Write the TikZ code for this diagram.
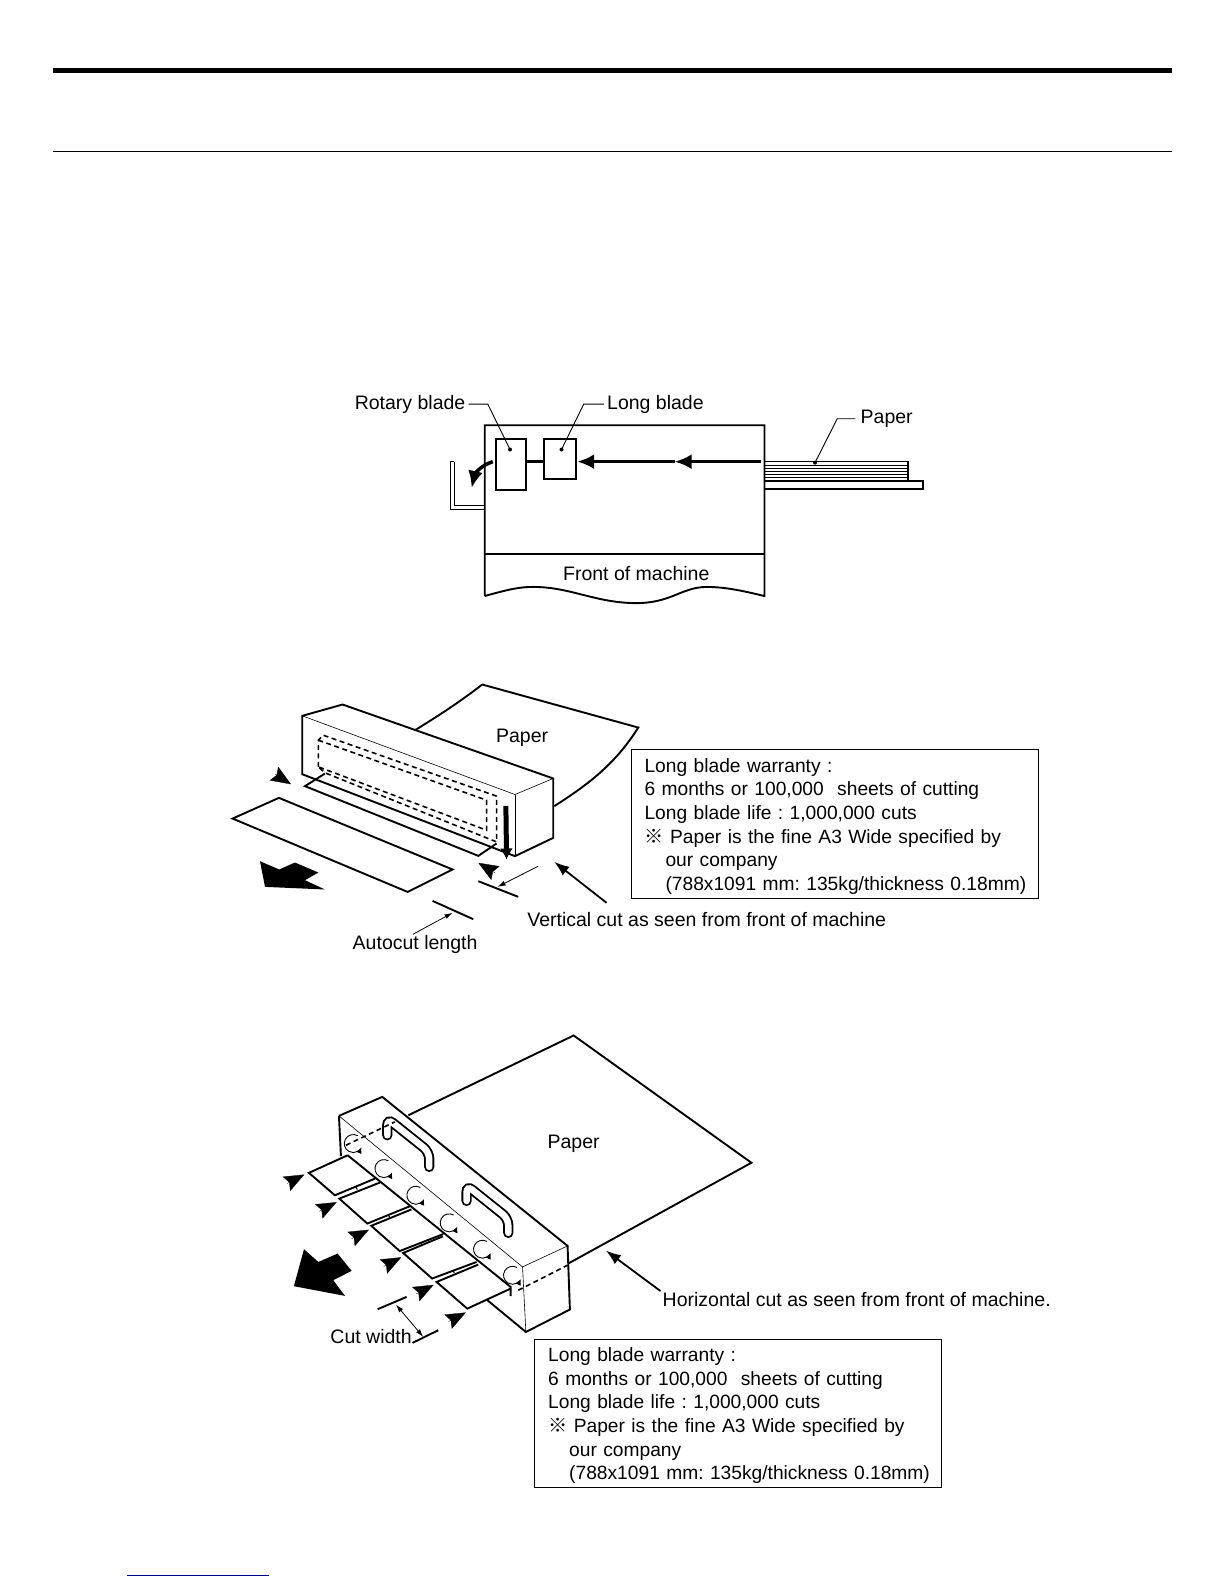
\documentclass[tikz,border=0pt]{standalone}
\usepackage{fontspec}
\setmainfont{Liberation Sans}
\newfontfamily\cjk{Noto Sans CJK JP}
\usetikzlibrary{arrows.meta, calc, positioning}
\tikzset{
  outline/.style  = {draw, line width=1.9pt, line join=miter},
  edgeline/.style = {draw, line width=0.6pt},
  hidden/.style   = {draw, line width=1.6pt, dash pattern=on 5pt off 3.5pt},
  feed/.style     = {-{Latex[length=17pt,width=15pt]}, line width=3.5pt},
  leader/.style   = {line width=0.9pt},
  thinarrow/.style= {-{Latex[length=8pt,width=5pt]}, line width=0.8pt},
  marker/.style   = {-{Stealth[length=20pt,width=16pt,inset=3pt]}, line width=0.3pt},
  endpoint/.style = {circle, fill, inner sep=0pt, minimum size=4pt},
  handle/.style   = {line width=1.9pt, double=white, double distance=6.5pt, line cap=round, rounded corners=7pt},
  lbl/.style      = {font=\fontsize{19.5}{23}\selectfont, inner sep=0pt, yshift=-1pt},
  note/.style     = {draw, line width=0.9pt, anchor=north west, align=left, text width=380pt,
                     inner xsep=13.5pt, inner ysep=3.5pt, font=\frenchspacing\fontsize{19.2}{23.7}\selectfont},
}
\newcommand{\warrantynote}[3]{%
  \node[note] (#1) at (#2,#3) {\rule{0pt}{19pt}Long blade warranty :\\
    6 months or 100,000\hspace{7pt} sheets of cutting\\
    Long blade life : 1,000,000 cuts\\
    {\cjk ※} Paper is the fine A3 Wide specified by\\
    \hspace*{21pt}our company\\
    \hspace*{21pt}\mbox{(788x1091 mm: 135kg/thickness 0.18mm)}};
}
\begin{document}
\begin{tikzpicture}[x=1.0099pt, y=-1.0102pt]
  \useasboundingbox (0,0) rectangle (1212,1568);
  \draw[line width=5pt] (52,70) -- (1160,70);
  \draw[line width=0.9pt] (52,150) -- (1160,150);
  \draw[line width=1.3pt, blue!55!black] (125.7,1559.5) -- (266,1559.5);

  % paper path
  \draw[outline] (480,590) -- (480,421) -- (757,421) -- (757,590)
    .. controls (740,586) and (720,581) .. (700,581)
    .. controls (675,581) and (665,597) .. (630,597)
    .. controls (590,597) and (565,581) .. (528,581)
    .. controls (515,581) and (505,583) .. (480,590);
  \draw[outline] (480,548) -- (757,548);
  \draw[outline] (491,435) rectangle (521,485);
  \draw[outline] (539,435) rectangle (570,474);
  \draw[line width=3.5pt] (521,457) -- (539,457);
  \draw[feed] (754,457) -- (668,457);
  \draw[feed] (668,457) -- (571.5,457);
  \draw[feed] (488,457) .. controls (475,461) and (470,470) .. (467,483);
  \draw[line width=1.1pt] (446,457) -- (446,504.5) -- (480,504.5);
  \draw[line width=1.1pt] (450,457) -- (450,500.5) -- (480,500.5);
  \draw[line width=1.1pt] (446,457) -- (450,457);
  \draw[outline, line width=1.4pt] (757,476) -- (914,476) -- (914,484) -- (757,484);
  \draw[outline, line width=1.4pt] (757,457) -- (899,457) -- (899,476);
  \foreach \i in {1,...,5} {
    \draw[line width=0.7pt] (757,457+\i*3.2) -- (899,457+\i*3.2);
  }
  \node[lbl, anchor=east] (rotarylabel) at (461,399) {Rotary blade};
  \node[lbl, anchor=west] (longlabel) at (601,399) {Long blade};
  \node[lbl, anchor=west] (paperlabel) at (852,413.5) {Paper};
  \node[lbl] (frontlabel) at (630,567) {Front of machine};
  \node[endpoint] (rotaryend) at (505,445) {};
  \node[endpoint] (longend) at (556,445) {};
  \node[endpoint] (paperend) at (807,458) {};
  \draw[leader] (rotarylabel.east) ++(3,0) -- (483,400) -- (rotaryend.center);
  \draw[leader] (longlabel.west) ++(-3,0) -- (578,400) -- (longend.center);
  \draw[leader] (paperlabel.west) ++(-5,0) -- (829,414.5) -- (paperend.center);

  % long blade, vertical cut
  \draw[outline] (410.9,722.8) .. controls (435,708) and (455,695) .. (477.5,677.6)
    -- (632,720.2) .. controls (610,755) and (585,775) .. (548.8,798);
  \draw[outline, fill=white] (299.3,708.6) -- (339.2,697.4) -- (547.8,770.6) -- (547.8,829.4)
    -- (509.9,847.5) -- (299.3,766.4) -- cycle;
  \draw[edgeline] (299.3,708.6) -- (509.9,786.5) -- (547.8,770.6);
  \draw[edgeline] (509.9,786.5) -- (509.9,847.5);
  \draw[hidden] (315.2,759.1) -- (315.2,732.7) -- (320.1,727.8) -- (491.7,788.1) -- (491.7,833.4)
    -- (321.8,765) -- cycle;
  \draw[hidden] (315.2,732.7) -- (481.8,792.1) -- (481.8,821.8) -- (315.2,759.1);
  \draw[outline] (321.8,765.7) -- (302,778.2) -- (473.6,847.2) -- (491.7,835);
  \draw[-{Latex[length=11pt,width=13pt]}, line width=5pt] (500.9,797.7) -- (501.6,850.8);
  \draw[outline] (230.3,810.3) -- (276.2,789.8) -- (448.1,860.7) -- (403.6,882.9) -- cycle;
  \fill (257.4,852.5) -- (276.5,860.7) -- (292,853.8) -- (315.2,863.7) -- (302,871.3)
    -- (321.8,880.5) -- (262.4,877.9) -- cycle;
  \draw[marker] (272.3,766.4) -- (288.1,776.3);
  \draw[marker] (490,864) -- (473.6,854.1);
  \draw[outline] (473.6,872.3) -- (513.2,887.8);
  \draw[outline] (428.3,891.8) -- (468.6,909.9);
  \draw[thinarrow] (533,857.4) -- (492.7,877.9);
  \node[lbl] (bladepaper) at (517,729) {Paper};
  \node[lbl] (autocutlabel) at (411,934) {Autocut length};
  \node[lbl, anchor=west] (verticallabel) at (522,909) {Vertical cut as seen from front of machine};
  \draw[thinarrow] (autocutlabel.north) ++(-2,-1) -- (448.1,903.6);
  \draw[-{Latex[length=15pt,width=11pt]}, line width=1.8pt] (600.6,893.7) -- (548.8,853.1);
  \warrantynote{upperwarranty}{624.4}{741.6}

  % long blade, horizontal cut
  \draw[outline] (404.3,1104) -- (568,1025) -- (744,1151) -- (562.6,1250.8);
  \draw[outline, fill=white] (335.6,1104.6) -- (378.5,1085.8) -- (562,1233.3) -- (564.3,1296.3)
    -- (520.7,1318.5) -- (481.8,1286.4);
  \draw[outline] (335.6,1104.6) -- (337.6,1144.5);
  \draw[edgeline] (335.6,1104.6) -- (517.4,1254.1) -- (562,1233.3);
  \draw[edgeline] (517.4,1254.1) -- (520.7,1318.5);
  \draw[handle] (383.5,1123.8) -- (383.5,1107.2) -- (425,1140.3) -- (425,1155.1);
  \draw[handle] (462,1188.8) -- (462,1173.3) -- (503.3,1206.3) -- (503.3,1220.4);
  \draw[hidden] (342.5,1133.7) -- (391,1110.5);
  \draw[hidden] (513.2,1277.2) -- (562,1252.4);
  \draw[outline] (344.2,1143.6) -- (505.6,1273.9) -- (505.6,1283.1);
  \draw[outline] (344.2,1143.6) -- (305.9,1161) -- (331.6,1183.2) -- (371.3,1166.7);
  \foreach \i in {0,...,2} {
    \draw[outline] (376.2+\i*31.2,1170.6+\i*26.6) -- (336+\i*31.6,1186.5+\i*26.9)
      -- (363.7+\i*32.1,1211.2+\i*27.2) -- (405.9+\i*33,1194+\i*27.6);
  }
  \draw[outline] (473.6,1251.8) -- (432.3,1269) -- (462.7,1295.4) -- (505.6,1275.6);
  \foreach \i in {0,...,3} {
    \draw[line width=1.1pt] (352.4+\i*32,1174.9+\i*27.5) -- (353.8+\i*32,1177.5+\i*27.5);
  }
  \foreach \cx/\cy in {349.8/1132,380.2/1156.8,411.8/1183.2,444.8/1210.5,477.8/1236.6,507.5/1262.4} {
    \draw[-{Latex[length=6pt,width=6pt]}, line width=0.9pt] (\cx,\cy) ++(60:9pt) arc [start angle=60, end angle=335, radius=9pt];
  }
  \foreach \i in {0,...,5} {
    \draw[marker] (284+\i*32,1171.7+\i*27.3) -- (301.3+\i*32,1162.7+\i*27.3);
  }
  \fill (301,1236.6) -- (315.2,1249.2) -- (334.3,1240.9) -- (348.2,1258) -- (330,1267.3)
    -- (341.6,1282.8) -- (291,1273.2) -- cycle;
  \draw[outline] (373.9,1296) -- (402.6,1283.8);
  \draw[outline] (408.5,1329.3) -- (433.9,1316.8);
  \draw[{Latex[length=8pt,width=5pt]}-{Latex[length=8pt,width=5pt]}, line width=0.8pt] (392,1291.4) -- (419.1,1323.4);
  \node[lbl] (sheetlabel) at (568,1131) {Paper};
  \node[lbl, anchor=west] (cutlabel) at (327,1322) {Cut width};
  \node[lbl, anchor=west] (horizontallabel) at (656,1285) {Horizontal cut as seen from front of machine.};
  \draw[-{Latex[length=15pt,width=11pt]}, line width=1.8pt] (horizontallabel.west) ++(-2,-8) -- (600,1238);
  \warrantynote{lowerwarranty}{529}{1325}
\end{tikzpicture}
\end{document}
